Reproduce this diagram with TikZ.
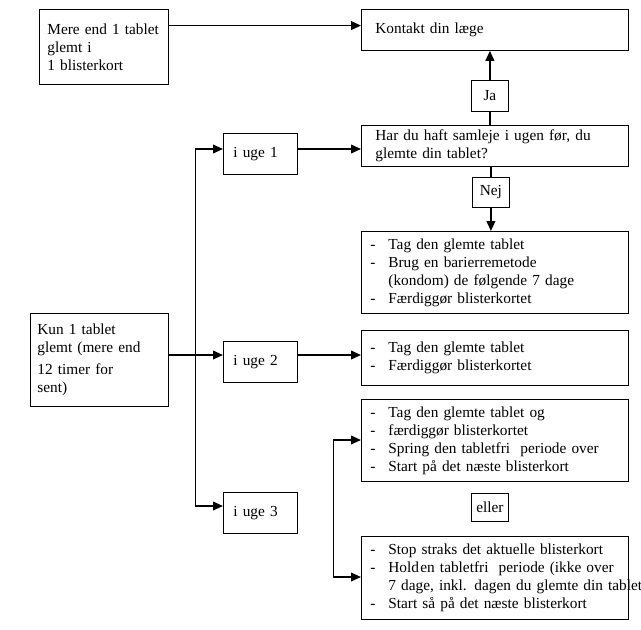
\documentclass[tikz,border=0pt]{standalone}
\usepackage{fontspec}
\setmainfont{Liberation Serif}
\usetikzlibrary{arrows.meta}
\newcommand{\li}[1]{\makebox[13.5pt][l]{-}#1}
\newcommand{\lc}[1]{\hspace*{13.5pt}#1}

\begin{document}
\begin{tikzpicture}[x=0.75pt,y=-0.75pt,
  box/.style={draw,line width=0.6pt,anchor=north west,align=left,inner ysep=0pt,font=\fontsize{11.5}{13.5}\selectfont},
  list/.style={box,inner xsep=6.75pt,text width=186.75pt},
  week/.style={box,inner xsep=7.5pt,text width=40.5pt,minimum height=30.75pt},
  tag/.style={draw,line width=0.6pt,fill=white,anchor=north west,inner sep=0pt,align=center,minimum width=27.75pt,font=\fontsize{11.5}{13.5}\selectfont},
  arrow/.style={line width=1.3pt,-{Triangle[length=7.5pt,width=6.5pt]}},
  stem/.style={line width=1.3pt},
  rail/.style={line width=0.7pt}]

\useasboundingbox (0,0) rectangle (641,629);

\node[box,inner xsep=6pt,text width=84.75pt,minimum height=56.25pt] (mere) at (39,9) {Mere end 1 tablet\\glemt i\\1 blisterkort};
\node[box,inner xsep=5.25pt,text width=93pt,minimum height=69.75pt] (kun) at (30,313) {Kun 1 tablet\\glemt (mere end\\[2.5pt]12 timer for\\sent)};
\node[week] (uge1) at (223,133) {i uge 1};
\node[week] (uge2) at (223,341) {i uge 2};
\node[week] (uge3) at (223,492) {i uge 3};
\node[box,inner xsep=10.5pt,text width=179.25pt,minimum height=30.75pt] (kontakt) at (361,9) {Kontakt din læge};
\node[box,inner xsep=10.5pt,text width=179.25pt,minimum height=30.75pt] (har) at (361,125) {Har du haft samleje i ugen før, du\\glemte din tablet?};
\node[tag,minimum height=23.25pt] (ja) at (471,80) {Ja};
\node[tag,minimum height=22.5pt] (nej) at (472,177) {Nej};
\node[list,minimum height=61.5pt] (tiltag1) at (361,231) {\li{Tag den glemte tablet}\\\li{Brug en barierremetode}\\\lc{(kondom) de følgende 7 dage}\\\li{Færdiggør blisterkortet}};
\node[list,minimum height=41.25pt] (tiltag2) at (361,330) {\li{Tag den glemte tablet}\\\li{Færdiggør blisterkortet}};
\node[list,minimum height=61.5pt] (tiltag3a) at (361,399) {\li{Tag den glemte tablet og}\\\li{færdiggør blisterkortet}\\\li{Spring den tabletfri~ periode over}\\\li{Start på det næste blisterkort}};
\node[tag,minimum height=21pt] (eller) at (471,493) {eller};
\node[list,minimum height=62.25pt] (tiltag3b) at (361,536) {\li{Stop straks det aktuelle blisterkort}\\\li{Hold\hspace{1pt}en tabletfri~ periode (ikke over}\\\lc{\mbox{7 dage, inkl. dagen du glemte din tablet}}\\\li{Start så på det næste blisterkort}};

\coordinate (b1) at (195,149);
\coordinate (fork) at (195,355);
\coordinate (b3) at (195,506);
\coordinate (c3) at (333,440);
\coordinate (c4) at (333,577);

\draw[arrow] ([yshift=16pt]mere.east) -- ([yshift=16pt]mere.east -| kontakt.west);
\draw[rail] (b1) -- (b3);
\draw[arrow] (kun.east |- fork) -- (fork -| uge2.west);
\draw[arrow] (b1) -- (b1 -| uge1.west);
\draw[arrow] (b3) -- (b3 -| uge3.west);
\draw[arrow] (b1 -| uge1.east) -- (b1 -| har.west);
\draw[arrow] (fork -| uge2.east) -- (fork -| tiltag2.west);
\draw[stem] (ja.south) -- (ja.south |- har.north);
\draw[arrow] (ja.north) -- (ja.north |- kontakt.south);
\draw[stem] (nej.north) -- (nej.north |- har.south);
\draw[arrow] (nej.south) -- (nej.south |- tiltag1.north);
\draw[rail] (c3) -- (c4);
\draw[arrow] (c3) -- (c3 -| tiltag3a.west);
\draw[arrow] (c4) -- (c4 -| tiltag3b.west);
\end{tikzpicture}
\end{document}
